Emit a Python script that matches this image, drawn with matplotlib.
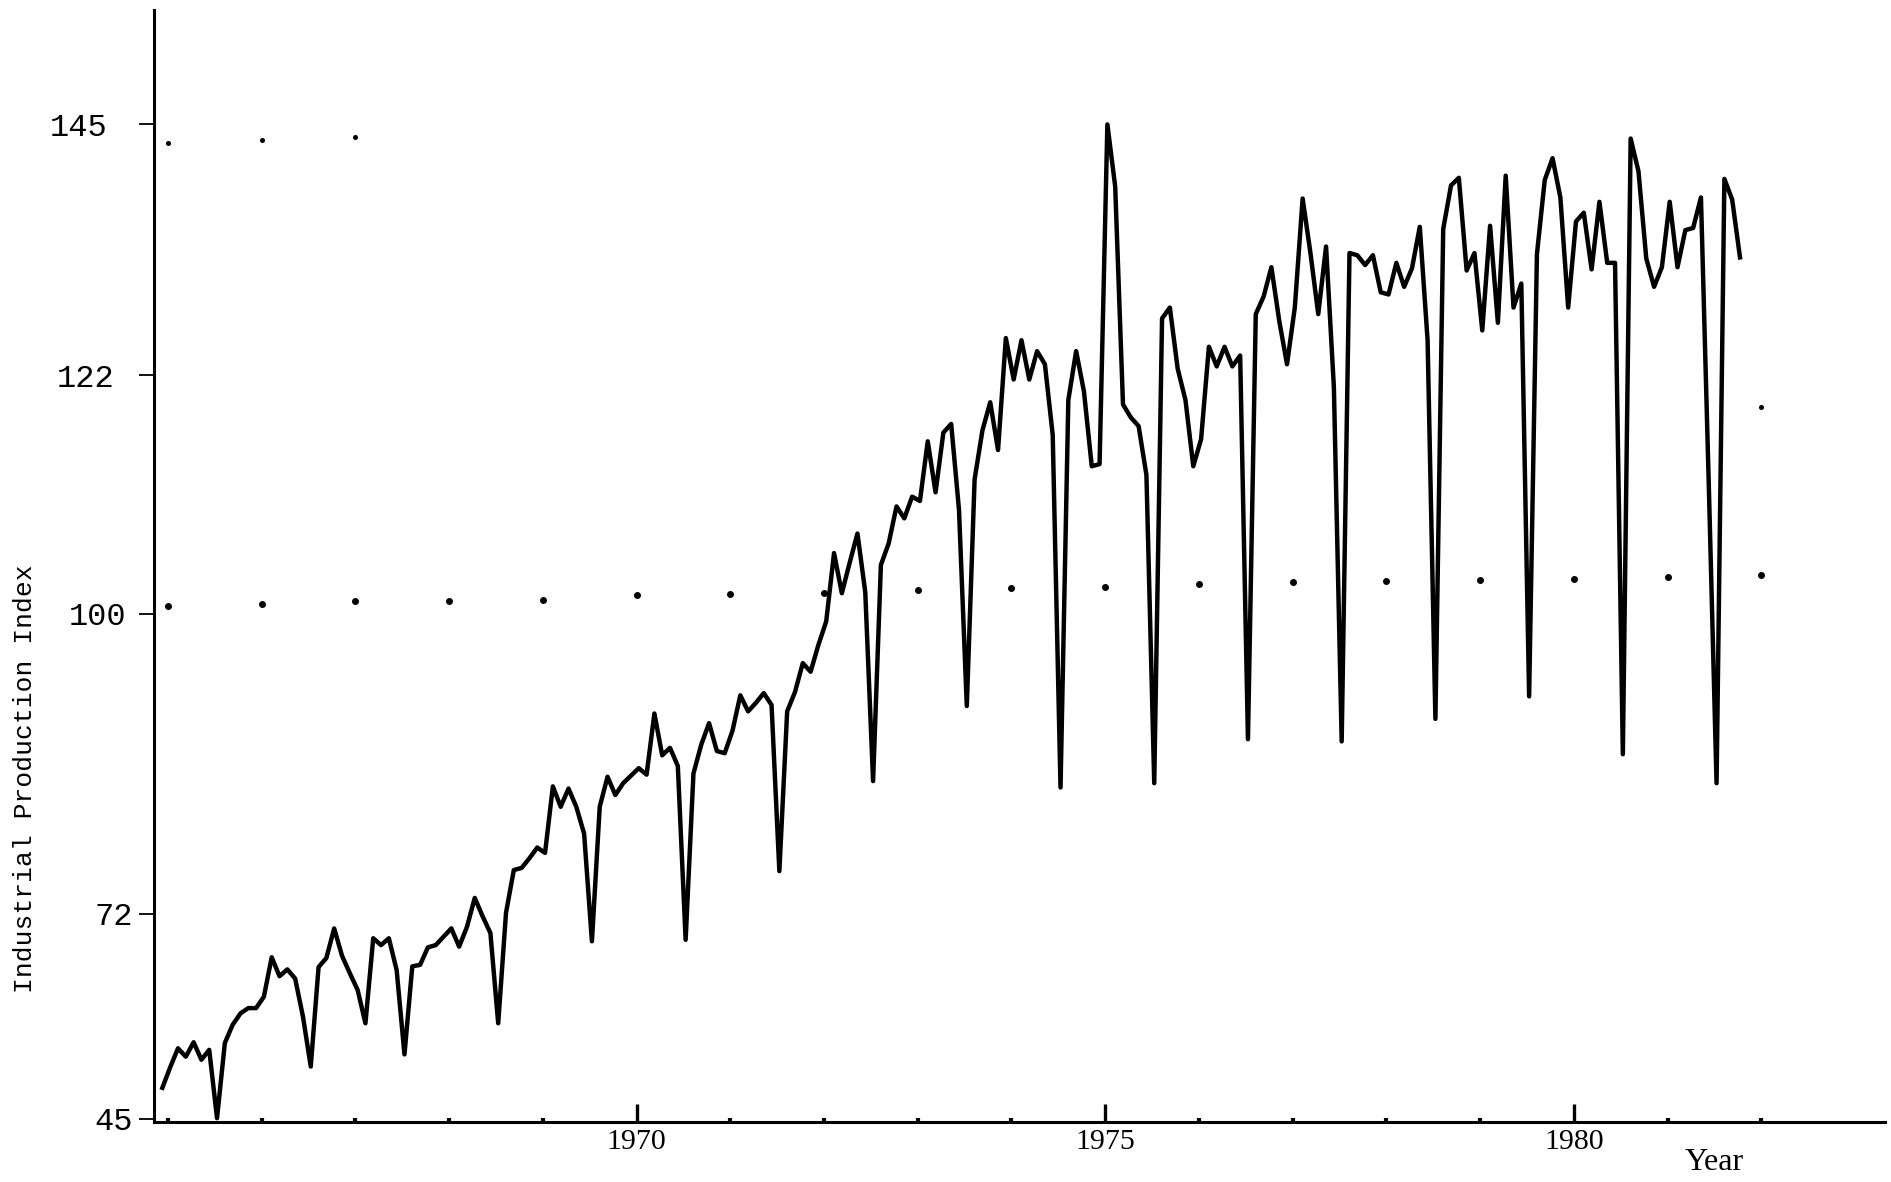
import numpy as np
import matplotlib
matplotlib.use("Agg")
import matplotlib.pyplot as plt
from matplotlib.transforms import ScaledTranslation

# monthly industrial production index, one list per year (Jan..Dec)
ip_1965 = [49.1, 51.8, 54.3, 53.2, 55.1, 52.8, 54.1, 45.1, 55.0, 57.4, 58.9, 59.6]
ip_1966 = [59.6, 61.1, 66.3, 63.8, 64.7, 63.5, 58.5, 51.9, 65.0, 66.2, 70.1, 66.5]
ip_1967 = [64.2, 62.0, 57.6, 68.8, 67.9, 68.8, 64.6, 53.5, 65.1, 65.3, 67.6, 67.9]
ip_1968 = [69.0, 70.1, 67.7, 70.3, 73.5, 71.7, 69.5, 57.6, 72.1, 76.1, 76.3, 77.2]
ip_1969 = [78.2, 77.7, 83.9, 82.0, 83.7, 82.0, 79.5, 68.4, 82.0, 84.8, 83.1, 84.2]
ip_1970 = [84.9, 85.6, 85.0, 90.7, 86.8, 87.5, 85.8, 68.6, 85.1, 87.8, 89.8, 87.2]
ip_1971 = [87.0, 89.1, 92.4, 90.9, 91.7, 92.6, 91.5, 76.0, 90.9, 92.7, 95.4, 94.6]
ip_1972 = [97.1, 99.3, 105.6, 101.9, 104.7, 107.4, 102.0, 84.4, 104.5, 106.5, 109.9, 108.8]
ip_1973 = [110.8, 110.4, 115.9, 111.2, 116.7, 117.5, 109.6, 91.4, 112.4, 116.9, 119.5, 115.1]
ip_1974 = [125.4, 121.6, 125.2, 121.6, 124.2, 123.0, 116.5, 83.8, 119.7, 124.2, 120.5, 113.6]
ip_1975 = [113.8, 145.0, 139.3, 119.3, 118.1, 117.3, 112.8, 84.2, 127.2, 128.2, 122.6, 119.7]
ip_1976 = [113.6, 116.1, 124.6, 122.8, 124.6, 122.8, 123.8, 88.3, 127.6, 129.2, 131.9, 127.0]
ip_1977 = [123.0, 128.2, 138.2, 133.2, 127.6, 133.8, 120.9, 88.1, 133.2, 133.0, 132.1, 133.0]
ip_1978 = [129.6, 129.4, 132.3, 130.1, 131.8, 135.6, 125.2, 90.2, 135.4, 139.4, 140.1, 131.6]
ip_1979 = [133.2, 126.1, 135.7, 126.8, 140.3, 128.2, 130.4, 92.3, 133.1, 139.9, 141.9, 138.3]
ip_1980 = [128.2, 136.1, 136.9, 131.7, 137.9, 132.3, 132.3, 86.9, 143.7, 140.7, 132.7, 130.1]
ip_1981 = [131.9, 137.9, 131.9, 135.3, 135.5, 138.3, 112.0, 84.2, 140.0, 138.1, 132.8]

series = (ip_1965 + ip_1966 + ip_1967 + ip_1968 + ip_1969 + ip_1970 + ip_1971
          + ip_1972 + ip_1973 + ip_1974 + ip_1975 + ip_1976 + ip_1977 + ip_1978
          + ip_1979 + ip_1980 + ip_1981)
# first observation sits just left of the 1965 mark, then one step per month
t = 1964.94 + np.arange(len(series)) / 12.0

# dotted reference marks, one per January
grid_years = list(range(1965, 1983))
grid_level = [100.7, 100.9, 101.2, 101.2, 101.3, 101.7, 101.8, 101.9, 102.2,
              102.35, 102.45, 102.75, 102.95, 103.05, 103.1, 103.2, 103.4, 103.6]
top_years = [1965, 1966, 1967]
top_level = [143.3, 143.6, 143.8]
stray_year = [1982]
stray_level = [119.1]

x_major = [1970, 1975, 1980]
y_ticks = [45, 72, 100, 122, 145]
# the printed y axis is not evenly spaced: height of each tick above the 45 mark
y_tick_height = [0, 170, 419, 617, 825]
# typed labels don't line up; horizontal nudge per label, in points
y_label_shift = [5, 5, 0, -8.5, -13.5]

# piecewise-linear scale through the ticks, extended linearly at both ends
lo_slope = (y_tick_height[1] - y_tick_height[0]) / (y_ticks[1] - y_ticks[0])
hi_slope = (y_tick_height[-1] - y_tick_height[-2]) / (y_ticks[-1] - y_ticks[-2])
vals_ext = np.array([0.0] + y_ticks + [250.0])
h_ext = np.array([y_tick_height[0] - lo_slope * y_ticks[0]] + y_tick_height
                 + [y_tick_height[-1] + hi_slope * (250 - y_ticks[-1])])


def forward(v):
    return np.interp(v, vals_ext, h_ext)


def inverse(h):
    return np.interp(h, h_ext, vals_ext)


fig = plt.figure(figsize=(18.91, 11.82), dpi=100)
ax = fig.add_axes([0.0814, 0.0508, 0.9154, 0.9408])

ax.plot(t, series, color="black", lw=3.2, solid_joinstyle="round")
ax.plot(grid_years, grid_level, "o", ms=4, color="black", ls="none")
ax.plot(top_years, top_level, "o", ms=2.6, color="black", ls="none")
ax.plot(stray_year, stray_level, "o", ms=2.6, color="black", ls="none")

ax.set_yscale("function", functions=(forward, inverse))
ax.set_ylim(44.6, 155.5)
ax.set_xlim(1964.85, 1983.32)

ax.set_yticks(y_ticks)
ax.set_yticklabels([str(v) for v in y_ticks], family="Liberation Mono", fontsize=23)
ax.set_xticks(x_major)
ax.set_xticklabels([str(v) for v in x_major], family="Liberation Serif", fontsize=21.5)
ax.set_xticks(grid_years, minor=True)
ax.yaxis.set_minor_locator(matplotlib.ticker.NullLocator())

ax.tick_params(axis="y", direction="out", length=11, width=1.3, pad=9)
ax.tick_params(axis="x", which="major", direction="in", length=13, width=2.4, pad=5)
ax.tick_params(axis="x", which="minor", direction="in", length=3, width=3)

for lab, dx in zip(ax.get_yticklabels(), y_label_shift):
    lab.set_transform(lab.get_transform() + ScaledTranslation(dx / 72, 0, fig.dpi_scale_trans))

for side in ["top", "right"]:
    ax.spines[side].set_visible(False)
for side in ["left", "bottom"]:
    ax.spines[side].set_linewidth(2.2)

fig.text(25 / 1891, 1 - 779 / 1182, "Industrial Production Index", rotation=90,
         ha="center", va="center", family="Liberation Mono", fontsize=19)
fig.text(1714 / 1891, 1 - 1162 / 1182, "Year", ha="center", va="center",
         family="Liberation Serif", fontsize=23)

fig.savefig("out.png", dpi=100)
